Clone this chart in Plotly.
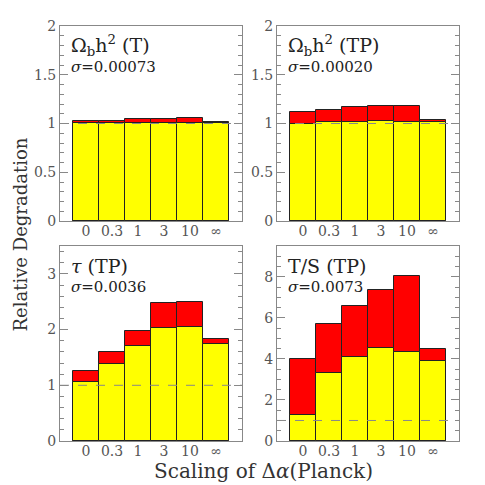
import plotly.graph_objects as go
from plotly.subplots import make_subplots

# category labels for scaling of delta-alpha
scalings = ["0", "0.3", "1", "3", "10", "∞"]

# red = total degradation, yellow = lower bars
obh2_T_red = [1.026, 1.03, 1.043, 1.05, 1.06, 1.012]
obh2_T_yel = [1.005, 1.005, 1.005, 1.005, 1.005, 1.005]
obh2_TP_red = [1.115, 1.138, 1.166, 1.18, 1.18, 1.036]
obh2_TP_yel = [1.0, 1.02, 1.02, 1.03, 1.02, 1.02]
tau_TP_red = [1.26, 1.60, 1.976, 2.47, 2.49, 1.825]
tau_TP_yel = [1.066, 1.386, 1.70, 2.02, 2.04, 1.74]
ts_TP_red = [3.98, 5.72, 6.60, 7.38, 8.02, 4.47]
ts_TP_yel = [1.28, 3.30, 4.07, 4.52, 4.36, 3.90]

titles = ["Ω<sub>b</sub>h<sup>2</sup> (T)", "Ω<sub>b</sub>h<sup>2</sup> (TP)",
          "<i>τ</i> (TP)", "T/S (TP)"]
sigmas = ["<i>σ</i>=0.00073", "<i>σ</i>=0.00020", "<i>σ</i>=0.0036", "<i>σ</i>=0.0073"]

panels = [
    (1, 1, obh2_T_red, obh2_T_yel, [0, 2], 0.5, 0.1),
    (1, 2, obh2_TP_red, obh2_TP_yel, [0, 2], 0.5, 0.1),
    (2, 1, tau_TP_red, tau_TP_yel, [0, 3.5], 1, 0.2),
    (2, 2, ts_TP_red, ts_TP_yel, [0, 9.5], 2, 0.5),
]

# page body has an 8px margin, so the figure is 477 wide and offsets are shifted
W = 477
OFF = 8


def px(x):
    return (x - OFF) / W


def py(y):
    return 1 - (y - OFF) / W


fig = make_subplots(rows=2, cols=2)

serif = "DejaVu Serif"
gray = "#888888"
xpos = list(range(len(scalings)))

for i, (r, c, red, yel, yr, dt, mdt) in enumerate(panels):
    fig.add_trace(go.Bar(x=xpos, y=red, width=1, marker=dict(color="#ff0000", line=dict(color="#222222", width=1)),
                         showlegend=False), row=r, col=c)
    fig.add_trace(go.Bar(x=xpos, y=yel, width=1, marker=dict(color="#ffff00", line=dict(color="#222222", width=1)),
                         showlegend=False), row=r, col=c)
    fig.update_xaxes(range=[-1, 6], tickvals=xpos, ticktext=scalings, showgrid=False, zeroline=False,
                     showline=True, mirror=True, linecolor=gray, ticks="", automargin=False,
                     ticklabelstandoff=-3,
                     tickfont=dict(family=serif, size=14, color="#555555"), row=r, col=c)
    fig.update_yaxes(range=yr, dtick=dt, tick0=0, showgrid=False, zeroline=False, automargin=False,
                     showline=True, mirror="ticks", linecolor=gray, ticks="inside", ticklen=8,
                     tickcolor=gray, minor=dict(dtick=mdt, ticks="inside", ticklen=4, tickcolor=gray),
                     tickfont=dict(family=serif, size=14, color="#555555"), row=r, col=c)
    xa = "x" if i == 0 else "x%d" % (i + 1)
    ya = "y" if i == 0 else "y%d" % (i + 1)
    fig.add_shape(type="line", xref=xa + " domain", yref=ya, x0=0, x1=1, y0=1, y1=1,
                  line=dict(color="#888888", width=1, dash="dash"), layer="above")
    fig.add_annotation(xref=xa + " domain", yref=ya + " domain", x=0.05, y=0.9, xanchor="left", yanchor="middle",
                       text=titles[i], showarrow=False, font=dict(family=serif, size=19, color="#222222"))
    fig.add_annotation(xref=xa + " domain", yref=ya + " domain", x=0.05, y=0.79, xanchor="left", yanchor="middle",
                       text=sigmas[i], showarrow=False, font=dict(family=serif, size=15, color="#222222"))

# panel positions (reference pixel coords)
fig.update_layout(
    xaxis=dict(domain=[px(60), px(242)]), xaxis2=dict(domain=[px(277), px(459)]),
    xaxis3=dict(domain=[px(60), px(242)]), xaxis4=dict(domain=[px(277), px(459)]),
    yaxis=dict(domain=[py(221), py(26)]), yaxis2=dict(domain=[py(221), py(26)]),
    yaxis3=dict(domain=[py(441), py(246)]), yaxis4=dict(domain=[py(441), py(246)]),
)

fig.add_annotation(xref="paper", yref="paper", x=0, y=py(235), text="Relative Degradation", textangle=-90,
                   showarrow=False, xanchor="left", yanchor="middle",
                   font=dict(family=serif, size=18, color="#333333"))
fig.add_annotation(xref="paper", yref="paper", x=px(263), y=py(471), text="Scaling of Δ<i>α</i>(Planck)",
                   showarrow=False, xanchor="center", yanchor="middle",
                   font=dict(family=serif, size=20, color="#333333"))

fig.update_layout(width=W, height=W, margin=dict(l=0, r=0, t=0, b=0), barmode="overlay",
                  plot_bgcolor="white", paper_bgcolor="white", bargap=0)

fig.write_html("out.html")
